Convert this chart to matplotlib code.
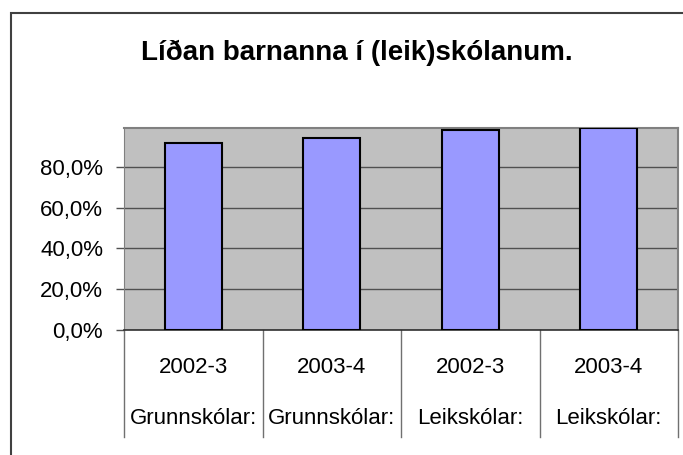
import matplotlib
matplotlib.use('Agg')
import matplotlib.pyplot as plt
from matplotlib.patches import Rectangle
import numpy as np

plt.rcParams['font.family'] = ['Liberation Sans', 'DejaVu Sans']

# data
years = ['2002-3', '2003-4', '2002-3', '2003-4']
groups = ['Grunnskólar:', 'Grunnskólar:', 'Leikskólar:', 'Leikskólar:']
values = [0.918, 0.939, 0.978, 0.99]
yticks = [0.0, 0.2, 0.4, 0.6, 0.8]
title = 'Líðan barnanna í (leik)skólanum.'

fig = plt.figure(figsize=(6.83, 4.55), dpi=100)
ax = fig.add_axes([124 / 683, 125 / 455, 554 / 683, 202 / 455])

# outer chart frame (runs off the right and bottom of the picture)
fig.patches.append(Rectangle((11 / 683, -0.1), 1.2, (455 - 13) / 455 + 0.1,
                             transform=fig.transFigure, fill=False,
                             edgecolor='#404040', linewidth=1.5))

fig.text(357 / 683, (455 - 60) / 455, title, ha='center', va='baseline',
         fontsize=20, fontweight='bold')

x = np.arange(len(values))
ax.set_facecolor('#C0C0C0')
ax.set_axisbelow(True)
ax.yaxis.grid(True, color='#505050', linewidth=1)
ax.bar(x, values, width=0.41, color='#9999FF', edgecolor='black', linewidth=1.5, zorder=3)

ax.set_xlim(-0.5, len(values) - 0.5)
ax.set_ylim(0, 0.99)
ax.set_yticks(yticks)
ax.set_yticklabels([('%.1f%%' % (v * 100)).replace('.', ',') for v in yticks], fontsize=16)
ax.tick_params(axis='y', length=6, width=1, color='#505050', pad=9)
ax.set_xticks([])

for s in ['top', 'right']:
    ax.spines[s].set_color('#808080')
    ax.spines[s].set_linewidth(1.5)
ax.spines['left'].set_color('#808080')
ax.spines['bottom'].set_color('#303030')
ax.spines['bottom'].set_linewidth(1.2)

# two-level category axis
tr = ax.get_xaxis_transform()
for i in range(len(values)):
    ax.text(x[i], -0.185, years[i], transform=tr, ha='center', va='center', fontsize=16)
    ax.text(x[i], -0.44, groups[i], transform=tr, ha='center', va='center', fontsize=16)
for b in np.arange(-0.5, len(values), 1.0):
    ax.plot([b, b], [0, -0.53], transform=tr, color='#707070', linewidth=1, clip_on=False)

fig.savefig('out.png', dpi=100)
